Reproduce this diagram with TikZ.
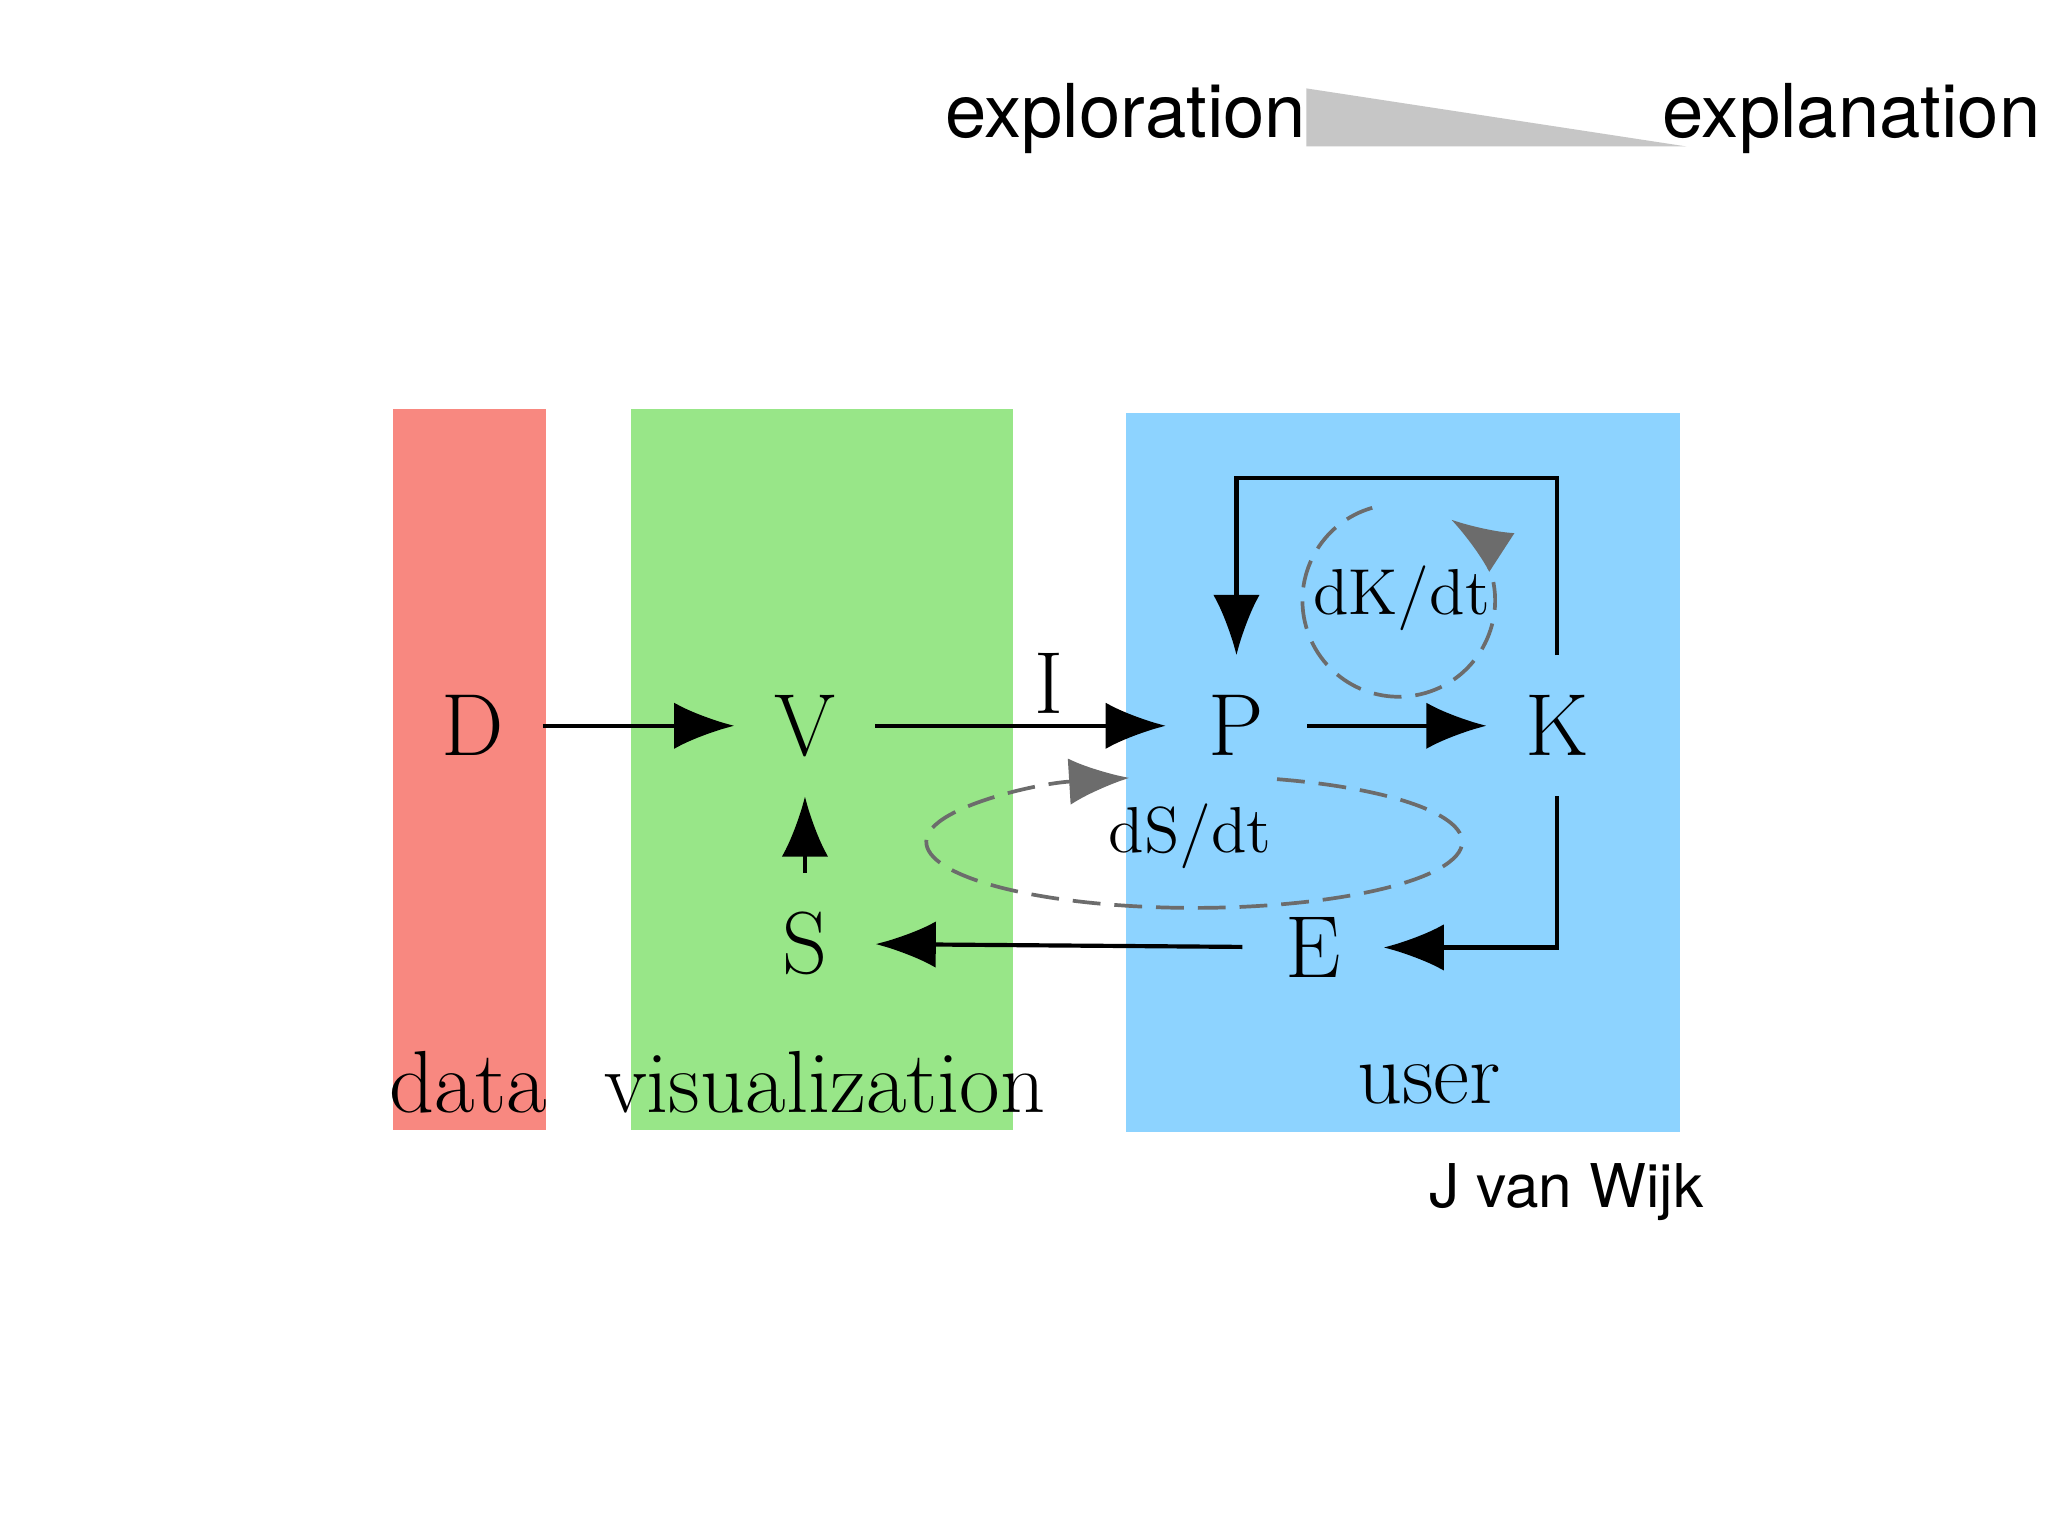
\documentclass[tikz,border=0pt]{standalone}
\usepackage{fontspec}
\usepackage{tikz}
\usetikzlibrary{arrows.meta}
\newfontfamily\helv{TeX Gyre Heros}
\definecolor{datared}{HTML}{F88880}
\definecolor{visgreen}{HTML}{98E688}
\definecolor{userblue}{HTML}{8DD3FF}
\tikzstyle{var}=[inner sep=0pt, minimum size=30pt, font=\fontsize{19}{21}\selectfont]
\tikzstyle{area}=[font=\fontsize{19}{21}\selectfont]
\tikzstyle{flow}=[draw, line width=.9pt, black, -{Latex[length=13pt,width=10pt]}]
\tikzstyle{rate}=[draw, line width=.8pt, gray!85!black, dash pattern=on 6pt off 3pt]
\tikzstyle{topnote}=[font=\helv\fontsize{16}{18}\selectfont]
\begin{document}
\begin{tikzpicture}[x=0.01cm, y=-0.01cm]
\useasboundingbox (0,0) rectangle (1552,1164);
\fill[white] (0,0) rectangle (1552,1164);

% areas
\fill[datared] (298,310) rectangle (414,856);
\fill[visgreen] (478,310) rectangle (768,856);
\fill[userblue] (853,313) rectangle (1273,858);
\node[area] (data) at (355,820) {data};
\node[area] (vis) at (625,820) {visualization};
\node[area] (user) at (1083,822) {user};

% top scale
\node[topnote] (explo) at (853,90) {exploration};
\node[topnote] (expla) at (1403,90) {explanation};
\fill[gray!45] (990,67) -- (990,111) -- (1278,111) -- cycle;
\node[font=\helv\fontsize{13}{15}\selectfont] (credit) at (1187,903) {J van Wijk};

% variables
\node[var] (d) at (358,550) {D};
\node[var] (v) at (610,550) {V};
\node[var] (p) at (937,550) {P};
\node[var] (k) at (1180,550) {K};
\node[var] (s) at (610,715) {S};
\node[var] (e) at (995,718) {E};
\node[var] (i) at (795,518) {I};

\draw[flow] (d) -- (v);
\draw[flow] (v) -- (p);
\draw[flow] (p) -- (k);
\draw[flow] (s) -- (v);
\draw[flow] (e) -- (s);
\draw[flow] (k) |- (e);
\draw[flow] (k) -- (k |- 0,362) -| (p);

% rates
\draw[rate, -{Latex[length=13pt,width=10pt]}] (1060,455) ++(-106:73) arc[start angle=-106, end angle=-417, radius=73];
\node[font=\fontsize{14}{16}\selectfont] (dk) at (1062,453) {dK/dt};
\draw[rate, -{Latex[length=13pt,width=10pt]}] (905,638) ++(-72:203 and 50) arc[start angle=-72, end angle=256, x radius=203, y radius=50];
\node[font=\fontsize{14}{16}\selectfont] (ds) at (902,634) {dS/dt};
\end{tikzpicture}
\end{document}
